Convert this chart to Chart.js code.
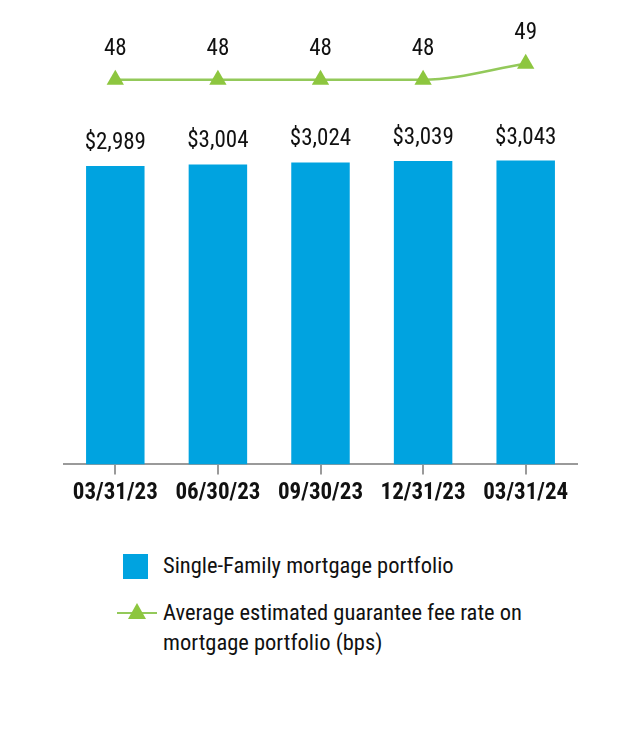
<!DOCTYPE html>
<html>
<head>
<meta charset="utf-8">
<script src="https://cdn.jsdelivr.net/npm/chart.js@4/dist/chart.umd.min.js"></script>
<style>
  html, body { margin: 0; padding: 0; background: #fff; }
  body { width: 640px; height: 740px; position: relative; overflow: hidden;
         font-family: "Roboto Condensed", "Liberation Sans Narrow", "Liberation Sans", sans-serif; }
  #wrap { position: absolute; left: 0; top: 0; width: 640px; height: 520px; }
  #legend { position: absolute; left: 117px; top: 552px; color: #111; font-size: 22.5px; }
  .item { display: flex; align-items: flex-start; margin-bottom: 19px; }
  .sq { width: 25px; height: 25px; margin: 2px 15px 0 6px; flex: none; }
  .ln { width: 40px; height: 20px; margin: 3px 6px 0 0; flex: none; position: relative; }
  .ln .bar { position: absolute; left: 0; right: 0; top: 10px; height: 2px; }
  .ln .tri { position: absolute; left: 11px; top: 1px; width: 0; height: 0;
             border-left: 9px solid transparent; border-right: 9px solid transparent; border-bottom: 16px solid; }
  .txt { line-height: 30px; margin-top: -2px; }
</style>
</head>
<body>
<div id="wrap"><canvas id="c" width="640" height="520"></canvas></div>
<div id="legend"></div>
<script>
const categories = ["03/31/23", "06/30/23", "09/30/23", "12/31/23", "03/31/24"];
const portfolioValues = [2989, 3004, 3024, 3039, 3043];
const feeRateValues = [48, 48, 48, 48, 49];
const seriesNames = ["Single-Family mortgage portfolio",
                     "Average estimated guarantee fee rate on mortgage portfolio (bps)"];
const barLabels = portfolioValues.map(v => "$" + v.toLocaleString("en-US"));
const lineLabels = feeRateValues.map(v => String(v));

const BLUE = "#00A3E0";
const GREEN = "#8DC63F";
const LINE_GREEN = "#93C95A";
const FONT = '"Roboto Condensed", "Liberation Sans Narrow", "Liberation Sans", sans-serif';

const labelPlugin = {
  id: "valueLabels",
  afterDatasetsDraw(chart) {
    const ctx = chart.ctx;
    ctx.save();
    ctx.fillStyle = "#111";
    ctx.textAlign = "center";
    ctx.textBaseline = "alphabetic";
    ctx.font = "23px " + FONT;
    chart.getDatasetMeta(0).data.forEach((el, i) => {
      ctx.fillText(barLabels[i], el.x, el.y - 17);
    });
    chart.getDatasetMeta(1).data.forEach((el, i) => {
      ctx.fillText(lineLabels[i], el.x, el.y - 25);
    });
    ctx.restore();
  }
};

new Chart(document.getElementById("c"), {
  data: {
    labels: categories,
    datasets: [
      {
        type: "bar",
        label: seriesNames[0],
        data: portfolioValues,
        backgroundColor: BLUE,
        barPercentage: 0.57,
        categoryPercentage: 1,
        yAxisID: "y",
        order: 2
      },
      {
        type: "line",
        label: seriesNames[1],
        data: feeRateValues,
        borderColor: LINE_GREEN,
        borderWidth: 2.5,
        backgroundColor: GREEN,
        pointStyle: "triangle",
        pointRadius: 10,
        pointBorderWidth: 0,
        pointBackgroundColor: GREEN,
        cubicInterpolationMode: "monotone",
        yAxisID: "y1",
        order: 1
      }
    ]
  },
  options: {
    responsive: false,
    animation: false,
    events: [],
    layout: { padding: { left: 64, right: 63, top: 30, bottom: 8 } },
    plugins: { legend: { display: false }, tooltip: { enabled: false } },
    scales: {
      x: {
        offset: true,
        grid: { display: true, drawOnChartArea: false, drawTicks: true, tickLength: 10,
                offset: false, color: "#9a9a9a", lineWidth: 2 },
        border: { display: true, color: "#9a9a9a", width: 2 },
        ticks: { color: "#111", padding: 5, font: { family: FONT, size: 23, weight: "bold" } }
      },
      y: { display: false, min: 0, max: 4350 },
      y1: { display: false, min: 24.06, max: 51.1 }
    }
  },
  plugins: [labelPlugin]
});

// HTML legend built from the series names
const legend = document.getElementById("legend");
legend.innerHTML =
  '<div class="item"><div class="sq" style="background:' + BLUE + '"></div><div class="txt">' + seriesNames[0] + '</div></div>' +
  '<div class="item"><div class="ln"><div class="bar" style="background:' + LINE_GREEN + '"></div><div class="tri" style="border-bottom-color:' + GREEN + '"></div></div>' +
  '<div class="txt" style="width:380px">' + seriesNames[1] + '</div></div>';
</script>
</body>
</html>
